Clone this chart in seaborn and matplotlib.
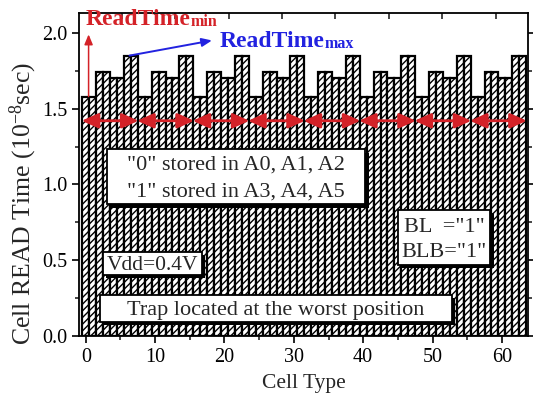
import numpy as np
import pandas as pd
import matplotlib
matplotlib.use("Agg")
import matplotlib.pyplot as plt
import matplotlib.patheffects as pe
from matplotlib.patches import Rectangle
from matplotlib.ticker import MultipleLocator, FormatStrFormatter
import seaborn as sns

# ---- data ----
cell_type = list(range(64))
group_pattern = [1.58, 1.58, 1.74, 1.74, 1.70, 1.70, 1.85, 1.85]
read_time = group_pattern * 8
group_starts = [0, 8, 16, 24, 32, 40, 48, 56]
group_size = 8
arrow_level = 1.42
top_tick_pos = [5.2, 12.9, 20.6, 28.3, 36.0, 43.7, 51.4, 59.1]

sns.set_style("ticks")
plt.rcParams["font.family"] = ["Liberation Serif", "DejaVu Serif"]
plt.rcParams["mathtext.fontset"] = "custom"
plt.rcParams["mathtext.rm"] = "Liberation Serif"
plt.rcParams["mathtext.it"] = "Liberation Serif:italic"
plt.rcParams["mathtext.bf"] = "Liberation Serif:bold"
plt.rcParams["hatch.linewidth"] = 1.0

df = pd.DataFrame({"cell": cell_type, "t": read_time})

fig = plt.figure(figsize=(5.33, 3.99), dpi=100)
ax = fig.add_axes([0.148, 0.158, 0.843, 0.809])

sns.barplot(data=df, x="cell", y="t", native_scale=True, width=1.0,
            color="white", edgecolor="black", linewidth=1.6, hatch="/////",
            errorbar=None, ax=ax, saturation=1)

ax.set_xlim(-1.0, 63.8)
ax.set_ylim(0, 2.13)
ax.xaxis.set_major_locator(MultipleLocator(10))
ax.xaxis.set_minor_locator(MultipleLocator(5))
ax.yaxis.set_major_locator(MultipleLocator(0.5))
ax.yaxis.set_minor_locator(MultipleLocator(0.25))
ax.yaxis.set_major_formatter(FormatStrFormatter("%.1f"))
ax.tick_params(which="major", direction="out", length=5, width=1.2, labelsize=14.5,
               right=True, colors="black")
ax.tick_params(which="minor", direction="out", length=3, width=1.2, right=True)
for s in ax.spines.values():
    s.set_linewidth(1.3)
    s.set_color("black")

sec = ax.secondary_xaxis("top")
sec.set_xticks(top_tick_pos)
sec.set_xticklabels([])
sec.tick_params(direction="in", length=4, width=1.2)
sec.spines["top"].set_visible(False)

ax.set_xlabel("Cell Type", fontsize=15.5, labelpad=5)
ax.set_ylabel("Cell READ Time (10$^{-8}$sec)", fontsize=18.5)
ax.yaxis.set_label_coords(-0.088, 0.41)

red = "#d42228"
blue = "#2222e0"

# group double arrows
for g in group_starts:
    ax.annotate("", xy=(g - 0.6, arrow_level), xytext=(g - 0.4 + group_size, arrow_level),
                arrowprops=dict(arrowstyle="<|-|>,head_length=1.0,head_width=0.45",
                                color=red, lw=2.0, shrinkA=0, shrinkB=0), zorder=5)

# ReadTime min arrow
ax.annotate("", xy=(0.4, 1.99), xytext=(0.4, read_time[0]),
            arrowprops=dict(arrowstyle="-|>,head_length=0.6,head_width=0.25",
                            color=red, lw=1.1, shrinkA=0, shrinkB=0))
t1 = ax.text(0.0, 2.05, "ReadTime", color=red, fontsize=17, fontweight="bold",
             ha="left", va="baseline")
ax.annotate("min", xy=(1, 0), xycoords=t1, color=red, fontsize=11.5, fontweight="bold",
            ha="left", va="bottom")

# ReadTime max arrow
ax.annotate("", xy=(18.2, 1.95), xytext=(6.3, read_time[6]),
            arrowprops=dict(arrowstyle="-|>,head_length=0.6,head_width=0.25",
                            color=blue, lw=1.4, shrinkA=0, shrinkB=0))
t2 = ax.text(19.3, 1.905, "ReadTime", color=blue, fontsize=17, fontweight="bold",
             ha="left", va="baseline")
ax.annotate("max", xy=(1, 0), xycoords=t2, color=blue, fontsize=11.5, fontweight="bold",
            ha="left", va="bottom")


def boxed(x0, x1, y0, y1, lines, ys, xc, fs=16):
    r = Rectangle((x0, y0), x1 - x0, y1 - y0, fc="white", ec="black", lw=1.3, zorder=6)
    r.set_path_effects([pe.SimplePatchShadow(offset=(2.5, -2.5), shadow_rgbFace="black",
                                             alpha=1.0), pe.Normal()])
    ax.add_patch(r)
    for s, y in zip(lines, ys):
        ax.text(xc, y, s, fontsize=fs, ha="center", va="center_baseline", zorder=7)


boxed(3.0, 40.3, 0.868, 1.232,
      ['"0" stored in A0, A1, A2', '"1" stored in A3, A4, A5'], [1.146, 0.967], 21.6)
boxed(2.0, 52.8, 0.093, 0.272, ["Trap located at the worst position"], [0.185], 27.4)
boxed(2.45, 16.7, 0.404, 0.556, ["Vdd=0.4V"], [0.48], 9.6, fs=15.5)
boxed(45.0, 58.3, 0.470, 0.834, ['BL  ="1"', 'BLB="1"'], [0.735, 0.570], 51.7)

fig.savefig("out.png", dpi=100)
